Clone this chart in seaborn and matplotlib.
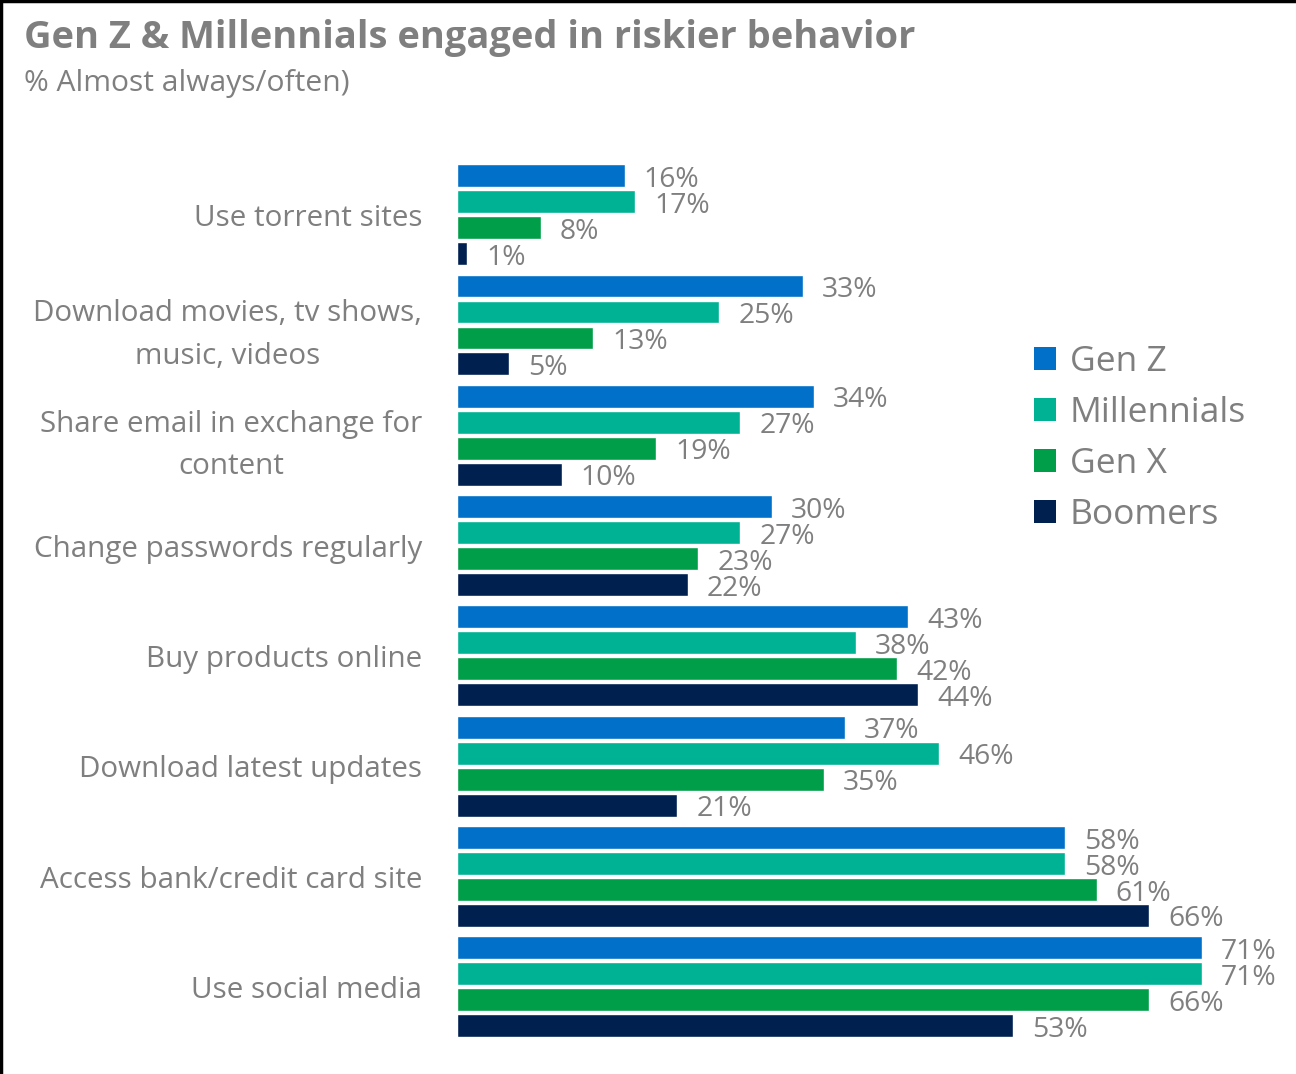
import matplotlib
matplotlib.use("Agg")
import matplotlib.pyplot as plt
from matplotlib.patches import Patch
from matplotlib.lines import Line2D
import seaborn as sns
import pandas as pd

categories = [
    "Use torrent sites",
    "Download movies, tv shows,\nmusic, videos",
    "Share email in exchange for\ncontent",
    "Change passwords regularly",
    "Buy products online",
    "Download latest updates",
    "Access bank/credit card site",
    "Use social media",
]
generations = ["Gen Z", "Millennials", "Gen X", "Boomers"]
gen_z = [16, 33, 34, 30, 43, 37, 58, 71]
millennials = [17, 25, 27, 27, 38, 46, 58, 71]
gen_x = [8, 13, 19, 23, 42, 35, 61, 66]
boomers = [1, 5, 10, 22, 44, 21, 66, 53]

colors = ["#0070C8", "#00B294", "#009E49", "#002050"]
text_gray = "#7F7F7F"

rows = []
for gen, vals in zip(generations, [gen_z, millennials, gen_x, boomers]):
    for cat, v in zip(categories, vals):
        rows.append({"Behavior": cat, "Generation": gen, "Percent": v})
df = pd.DataFrame(rows)

sns.set_theme(style="white")
plt.rcParams["font.family"] = ["Open Sans", "DejaVu Sans"]

fig = plt.figure(figsize=(12.96, 10.74), dpi=100)
ax = fig.add_axes([0.3526, 0.0298, 0.6474, 0.8217])

sns.barplot(
    data=df, y="Behavior", x="Percent", hue="Generation",
    order=categories, hue_order=generations, palette=colors,
    orient="h", width=0.942, gap=0.12, saturation=1, ax=ax, legend=False,
)

ax.set_xlim(0, 80)
ax.set_ylim(7.5, -0.5)
ax.set_xlabel("")
ax.set_ylabel("")
ax.set_xticks([])
for s in ax.spines.values():
    s.set_visible(False)
ax.tick_params(axis="y", length=0, pad=25, labelsize=21.3, labelcolor=text_gray)
for lbl in ax.get_yticklabels():
    lbl.set_horizontalalignment("right")
    lbl.set_multialignment("center")
    lbl.set_linespacing(1.6)

# value labels at the end of each bar
for container in ax.containers:
    for bar in container:
        w = bar.get_width()
        yc = bar.get_y() + bar.get_height() / 2
        ax.annotate(f"{w:.0f}%", xy=(w, yc), xytext=(19, -4),
                    textcoords="offset pixels",
                    ha="left", va="center", fontsize=20.3, color=text_gray)

handles = [Patch(facecolor=c, edgecolor="none", label=g) for g, c in zip(generations, colors)]
fig.legend(handles=handles, loc="upper left", bbox_to_anchor=(0.787, 0.692),
           frameon=False, fontsize=25.5, labelcolor=text_gray,
           handlelength=0.62, handleheight=0.62, handletextpad=0.38,
           labelspacing=0.48, borderaxespad=0)

fig.text(0.0185, 0.965, "Gen Z & Millennials engaged in riskier behavior",
         fontsize=27.4, fontweight="bold", color=text_gray, ha="left", va="center")
fig.text(0.0185, 0.922, "% Almost always/often)",
         fontsize=21.6, color=text_gray, ha="left", va="center")

# frame along the top and left edges
fig.add_artist(Line2D([0, 1], [0.999, 0.999], transform=fig.transFigure, color="black", lw=2.5))
fig.add_artist(Line2D([0.001, 0.001], [0, 1], transform=fig.transFigure, color="black", lw=2.5))

fig.savefig("out.png", dpi=100)
